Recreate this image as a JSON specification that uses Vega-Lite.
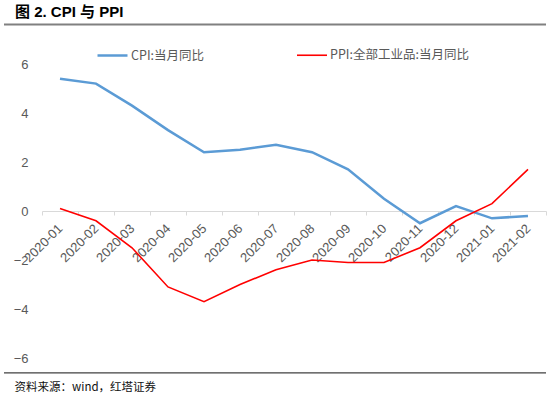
{
  "$schema": "https://vega.github.io/schema/vega-lite/v6.json",
  "width": 542,
  "height": 349,
  "autosize": {"type": "none"},
  "padding": {"top": 24, "left": 4, "right": 4, "bottom": 21},
  "background": "white",
  "config": {
    "view": {"stroke": null},
    "font": "Liberation Sans, Noto Sans CJK SC",
    "title": {"dx": 11}
  },
  "title": {
    "text": "图 2. CPI 与 PPI",
    "anchor": "start",
    "frame": "group",
    "fontSize": 15,
    "fontWeight": "bold",
    "color": "#000000",
    "font": "Liberation Sans, Noto Sans CJK SC",
    "offset": 4,
    "dx": 11
  },
  "datasets": {
    "series": [
      {"month": "2020-01", "series": "CPI:当月同比", "value": 5.4},
      {"month": "2020-02", "series": "CPI:当月同比", "value": 5.2},
      {"month": "2020-03", "series": "CPI:当月同比", "value": 4.3},
      {"month": "2020-04", "series": "CPI:当月同比", "value": 3.3},
      {"month": "2020-05", "series": "CPI:当月同比", "value": 2.4},
      {"month": "2020-06", "series": "CPI:当月同比", "value": 2.5},
      {"month": "2020-07", "series": "CPI:当月同比", "value": 2.7},
      {"month": "2020-08", "series": "CPI:当月同比", "value": 2.4},
      {"month": "2020-09", "series": "CPI:当月同比", "value": 1.7},
      {"month": "2020-10", "series": "CPI:当月同比", "value": 0.5},
      {"month": "2020-11", "series": "CPI:当月同比", "value": -0.5},
      {"month": "2020-12", "series": "CPI:当月同比", "value": 0.2},
      {"month": "2021-01", "series": "CPI:当月同比", "value": -0.3},
      {"month": "2021-02", "series": "CPI:当月同比", "value": -0.2},
      {"month": "2020-01", "series": "PPI:全部工业品:当月同比", "value": 0.1},
      {"month": "2020-02", "series": "PPI:全部工业品:当月同比", "value": -0.4},
      {"month": "2020-03", "series": "PPI:全部工业品:当月同比", "value": -1.5},
      {"month": "2020-04", "series": "PPI:全部工业品:当月同比", "value": -3.1},
      {"month": "2020-05", "series": "PPI:全部工业品:当月同比", "value": -3.7},
      {"month": "2020-06", "series": "PPI:全部工业品:当月同比", "value": -3.0},
      {"month": "2020-07", "series": "PPI:全部工业品:当月同比", "value": -2.4},
      {"month": "2020-08", "series": "PPI:全部工业品:当月同比", "value": -2.0},
      {"month": "2020-09", "series": "PPI:全部工业品:当月同比", "value": -2.1},
      {"month": "2020-10", "series": "PPI:全部工业品:当月同比", "value": -2.1},
      {"month": "2020-11", "series": "PPI:全部工业品:当月同比", "value": -1.5},
      {"month": "2020-12", "series": "PPI:全部工业品:当月同比", "value": -0.4},
      {"month": "2021-01", "series": "PPI:全部工业品:当月同比", "value": 0.3},
      {"month": "2021-02", "series": "PPI:全部工业品:当月同比", "value": 1.7}
    ],
    "frame": [
      {"edge": "top", "level": 7.61},
      {"edge": "bottom", "level": -6.61}
    ]
  },
  "layer": [
    {
      "data": {"name": "series"},
      "mark": {"type": "line", "strokeJoin": "miter"},
      "encoding": {
        "x": {
          "field": "month",
          "type": "ordinal",
          "bandPosition": 0.5,
          "scale": {"type": "band", "range": [38, 542], "paddingInner": 0, "paddingOuter": 0},
          "axis": {
            "title": null,
            "orient": "bottom",
            "offset": -162,
            "labelAngle": -45,
            "labelAlign": "right",
            "labelBaseline": "middle",
            "labelPadding": 11,
            "labelFontSize": 13,
            "labelColor": "#595959",
            "labelFont": "Liberation Sans",
            "domainColor": "#d9d9d9",
            "domainWidth": 1,
            "tickColor": "#d9d9d9",
            "tickSize": 4,
            "tickBand": "extent",
            "grid": false
          }
        },
        "y": {
          "field": "value",
          "type": "quantitative",
          "scale": {"domain": [-6, 6], "range": [334, 40], "nice": false, "zero": false},
          "axis": {
            "title": "资料来源：wind，红塔证券",
            "titleAngle": 0,
            "titleAlign": "left",
            "titleBaseline": "middle",
            "titleX": -14,
            "titleY": 363,
            "titleFontSize": 11.5,
            "titleFontWeight": "normal",
            "titleColor": "#111111",
            "titleFont": "Noto Sans CJK SC",
            "values": [-6, -4, -2, 0, 2, 4, 6],
            "offset": -24,
            "domain": false,
            "ticks": false,
            "grid": false,
            "labelPadding": 0,
            "labelFontSize": 13,
            "labelColor": "#595959",
            "labelFont": "Liberation Sans"
          }
        },
        "color": {
          "field": "series",
          "type": "nominal",
          "scale": {
            "domain": ["CPI:当月同比", "PPI:全部工业品:当月同比"],
            "range": ["#5B9BD5", "#FF0000"]
          },
          "legend": {
            "title": null,
            "orient": "none",
            "direction": "horizontal",
            "legendX": 92,
            "legendY": 15,
            "padding": 0,
            "symbolType": "stroke",
            "symbolSize": 900,
            "symbolStrokeWidth": 2.5,
            "labelFontSize": 12.5,
            "labelColor": "#595959",
            "labelFont": "Noto Sans CJK SC",
            "labelOffset": 2,
            "columnPadding": 88,
            "labelLimit": 300
          }
        },
        "strokeWidth": {
          "field": "series",
          "type": "nominal",
          "scale": {
            "domain": ["CPI:当月同比", "PPI:全部工业品:当月同比"],
            "range": [2.5, 1.6]
          },
          "legend": null
        }
      }
    },
    {
      "data": {"name": "frame"},
      "mark": {"type": "rule"},
      "encoding": {
        "y": {"field": "level", "type": "quantitative"},
        "color": {
          "field": "edge",
          "type": "nominal",
          "scale": {"domain": ["top", "bottom"], "range": ["#808080", "#404040"]},
          "legend": null
        },
        "strokeWidth": {
          "field": "edge",
          "type": "nominal",
          "scale": {"domain": ["top", "bottom"], "range": [2, 1.3]},
          "legend": null
        }
      }
    }
  ],
  "resolve": {"scale": {"color": "independent", "strokeWidth": "independent"}}
}
